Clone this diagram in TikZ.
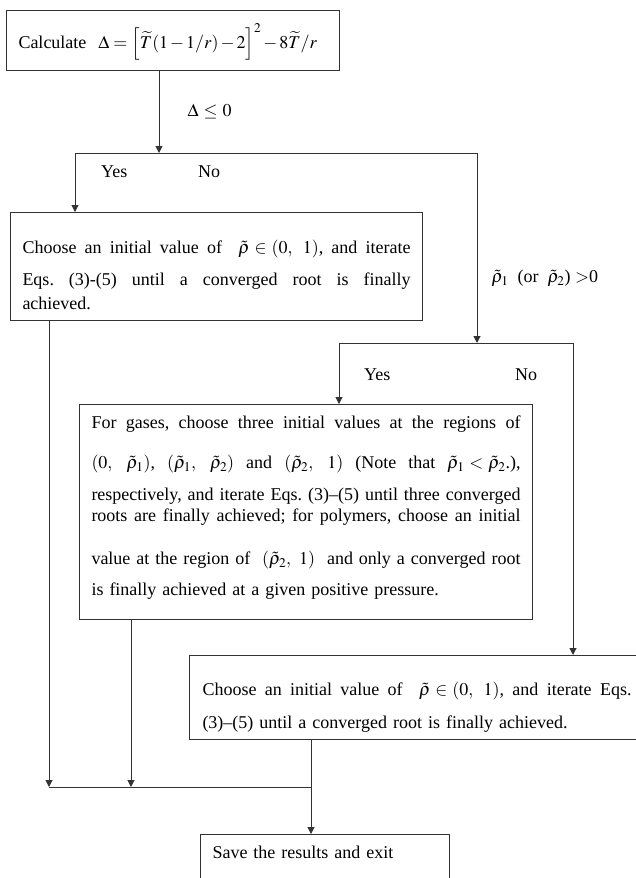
\documentclass[tikz,border=0pt]{standalone}
\usepackage{mathptmx}
\usepackage{fontspec}
\setmainfont{Liberation Serif}
\usetikzlibrary{arrows.meta, positioning}

\thickmuskip=5mu
\medmuskip=4mu
\frenchspacing
\newcommand{\fullline}[1]{\makebox[\linewidth][s]{\spaceskip=0pt\xspaceskip=0pt #1}}
\newcommand{\gap}[2]{\vrule height #1 depth #2 width 0pt}

\begin{document}
\begin{tikzpicture}[x=1pt, y=-1pt, font=\fontsize{18}{21}\selectfont]
			% Define style
			\tikzset{
				block/.style={rectangle, draw=black!80, line width=1pt, anchor=north west, align=left, inner xsep=12pt, inner ysep=0pt},
				lbl/.style={inner sep=0pt, anchor=base west},
				line/.style={draw=black!80, line width=1pt},
				arrow/.style={line, -{Triangle[length=7pt, width=7pt]}}
			}
			\useasboundingbox (0,0) rectangle (636,878);
			\clip (0,0) rectangle (636,878);
			
			% Define blocks
			\node (calc) [block, text width=309pt] at (6,10) {\gap{38pt}{22pt}Calculate\ \ \mbox{$\medmuskip=2mu\thickmuskip=4mu \Delta=\Bigl[\widetilde{T}(1-1/r)-2\Bigr]^2-8\widetilde{T}/r$}};
			\node (direct) [block, text width=388pt] at (10,212) {\fullline{\gap{41pt}{0pt}Choose an initial value of \ $\tilde{\rho}\in(0,\ 1)$, and iterate}\\[11pt]
				\fullline{Eqs. (3)-(5) until a converged root is finally}\\[3pt]
				achieved.\gap{0pt}{11pt}};
			\node (region) [block, text width=429pt] at (79,404) {\fullline{\gap{24pt}{0pt}For gases, choose three initial values at the regions of}\\[19pt]
				\fullline{$(0,\ \tilde{\rho}_1)$, $(\tilde{\rho}_1,\ \tilde{\rho}_2)$ and $(\tilde{\rho}_2,\ 1)$ (Note that $\tilde{\rho}_1<\tilde{\rho}_2$.),}\\[11pt]
				\fullline{respectively, and iterate Eqs. (3)--(5) until three converged}\\
				\fullline{roots are finally achieved; for polymers, choose an initial}\\[22pt]
				\fullline{value at the region of \ $(\tilde{\rho}_2,\ 1)$ \ and only a converged root}\\[10pt]
				is finally achieved at a given positive pressure.\gap{0pt}{24pt}};
			\node (single) [block, inner xsep=13pt, text width=429pt] at (189,655) {\fullline{\gap{40pt}{0pt}Choose an initial value of \ $\tilde{\rho}\in(0,\ 1)$, and iterate Eqs.}\\[12pt]
				(3)--(5) until a converged root is finally achieved.\gap{0pt}{11pt}};
			\node (save) [block, text width=225pt] at (200,834) {\gap{24pt}{40pt}Save the results and exit};
			
			% Define junctions and labels
			\coordinate (j0) at (159,153);
			\coordinate (j1) at (75,153);
			\coordinate (j2) at (477,153);
			\coordinate (k1) at (339,343);
			\coordinate (k2) at (573,343);
			\coordinate (m1) at (49,787);
			\coordinate (m2) at (131,787);
			\coordinate (m3) at (311,787);
			\node (yes1) [lbl] at (101,177) {Yes};
			\node (no1) [lbl] at (198,177) {No};
			\node (yes2) [lbl] at (364,380) {Yes};
			\node (no2) [lbl] at (515,380) {No};
			
			% Define arrows
			\draw [arrow] (calc.south -| j0) -- node[inner sep=0pt, right=28pt] {$\Delta\le 0$} (j0);
			\draw [line] (j1) -- (j2);
			\draw [arrow] (j1) -- (direct.north -| j1);
			\draw [arrow] (j2) -- node[inner sep=0pt, pos=0.66, right=14pt] {$\tilde{\rho}_1$\ \ (or\ \ $\tilde{\rho}_2$) $>$0} (j2 |- k1);
			\draw [line] (k1) -- (k2);
			\draw [arrow] (k1) -- (region.north -| k1);
			\draw [arrow] (k2) -- (single.north -| k2);
			\draw [arrow] (direct.south -| m1) -- (m1);
			\draw [arrow] (region.south -| m2) -- (m2);
			\draw [line] (m1) -- (m3);
			\draw [line] (single.south -| m3) -- (m3);
			\draw [arrow] (m3) -- (save.north -| m3);
		\end{tikzpicture}
\end{document}
